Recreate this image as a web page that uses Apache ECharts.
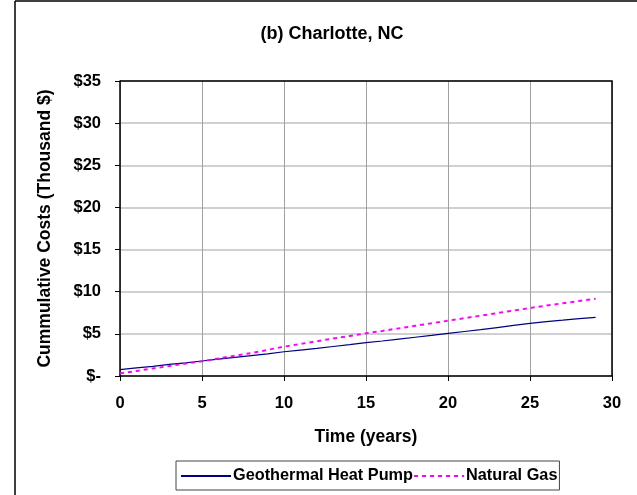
<!DOCTYPE html>
<html><head><meta charset="utf-8">
<script src="https://cdn.jsdelivr.net/npm/echarts@6/dist/echarts.min.js"></script>
<style>html,body{margin:0;padding:0;background:#fff}#c{width:637px;height:495px}</style>
</head><body><div id="c"></div>
<script>
const years = [0,1,2,3,4,5,6,7,8,9,10,11,12,13,14,15,16,17,18,19,20,21,22,23,24,25,26,27,28,29];
const geothermal = [0.75,0.97,1.15,1.38,1.55,1.78,2.0,2.2,2.42,2.63,2.88,3.08,3.28,3.5,3.72,3.95,4.15,4.38,4.6,4.82,5.06,5.28,5.5,5.75,6.0,6.25,6.45,6.62,6.8,6.96];
const naturalGas = [0.3,0.6,0.9,1.18,1.47,1.75,2.08,2.4,2.72,3.1,3.48,3.8,4.12,4.45,4.75,5.06,5.35,5.65,5.95,6.25,6.56,6.86,7.16,7.46,7.76,8.07,8.35,8.63,8.9,9.17];
const seriesNames = ['Geothermal Heat Pump','Natural Gas'];
const titleText = '(b) Charlotte, NC';
const xName = 'Time (years)';
const yName = 'Cummulative Costs (Thousand $)';

const font = 'Liberation Sans, Arial, sans-serif';
const G = {left:120, top:81, width:492, height:295};
const chart = echarts.init(document.getElementById('c'), null, {renderer:'canvas'});
chart.setOption({
  animation:false,
  backgroundColor:'#fff',
  title:{text:titleText,left:327,top:20,textAlign:'center',
    textStyle:{fontFamily:font,fontWeight:'bold',fontSize:18,color:'#000'}},
  grid:{left:G.left,top:G.top,width:G.width,height:G.height,show:false},
  legend:{left:176,top:461,padding:[7,2,6,4],
    borderColor:'#444',borderWidth:1,itemGap:0,itemWidth:50,itemHeight:14,
    data:seriesNames,itemStyle:{opacity:0},
    textStyle:{fontFamily:font,fontWeight:'bold',fontSize:16.3,color:'#000',padding:[0,0,0,-3]}},
  xAxis:{type:'value',min:0,max:30,interval:5,
    name:xName,nameLocation:'middle',nameGap:52,
    nameTextStyle:{fontFamily:font,fontWeight:'bold',fontSize:17.5,color:'#000'},
    axisLine:{lineStyle:{color:'#000',width:1.5}},
    axisTick:{show:true,length:5,lineStyle:{color:'#000'}},
    axisLabel:{fontFamily:font,fontWeight:'bold',fontSize:16.5,color:'#000',margin:19},
    splitLine:{show:true,lineStyle:{color:'#a0a0a0',width:1}}},
  yAxis:{type:'value',min:0,max:35,interval:5,
    name:yName,nameLocation:'middle',nameGap:66,
    nameTextStyle:{fontFamily:font,fontWeight:'bold',fontSize:17.5,color:'#000'},
    axisLine:{show:true,lineStyle:{color:'#000',width:1.5}},
    axisTick:{show:true,length:5,lineStyle:{color:'#000'}},
    axisLabel:{fontFamily:font,fontWeight:'bold',fontSize:16.5,color:'#000',margin:19,
      formatter:v=>v===0?'$-':'$'+v},
    splitLine:{show:true,lineStyle:{color:'#c0c0c0',width:1.5}}},
  graphic:[
    {type:'line',shape:{x1:15,y1:1,x2:637,y2:1},style:{stroke:'#000',lineWidth:1.5}},
    {type:'line',shape:{x1:15,y1:1,x2:15,y2:495},style:{stroke:'#000',lineWidth:1.5}},
    {type:'polyline',z:50,shape:{points:[[G.left,G.top],[G.left+G.width,G.top],[G.left+G.width,G.top+G.height]]},
      style:{stroke:'#000',lineWidth:1.5,fill:null}}
  ],
  series:[
    {name:seriesNames[0],type:'line',data:years.map((y,i)=>[y,geothermal[i]]),
      showSymbol:false,symbol:'none',lineStyle:{color:'#000080',width:1.2},itemStyle:{color:'#000080'}},
    {name:seriesNames[1],type:'line',data:years.map((y,i)=>[y,naturalGas[i]]),
      showSymbol:false,symbol:'none',lineStyle:{color:'#ff00ff',width:2,type:[4,4]},itemStyle:{color:'#ff00ff'}}
  ]
});
</script></body></html>
